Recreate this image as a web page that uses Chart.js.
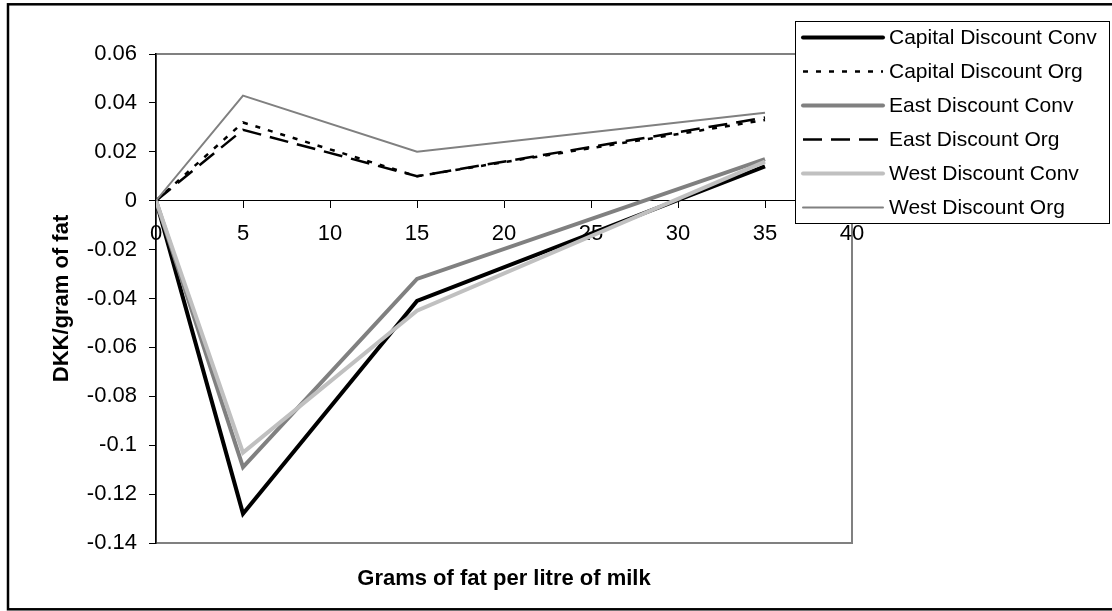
<!DOCTYPE html>
<html>
<head>
<meta charset="utf-8">
<title>Fat discount chart</title>
<script src="https://cdn.jsdelivr.net/npm/chart.js@4.4.1/dist/chart.umd.min.js"></script>
<style>
	body { margin: 0; background: #fff; }
	canvas { display: block; }
</style>
</head>
<body>
<canvas id="fatChart" width="1112" height="611"></canvas>
<script>
// data
const fatGrams = [0, 5, 15, 35]
const seriesNames = ["Capital Discount Conv", "Capital Discount Org", "East Discount Conv", "East Discount Org", "West Discount Conv", "West Discount Org"]
const capitalConv = [0, -0.128, -0.041, 0.014]
const capitalOrg = [0, 0.032, 0.010, 0.033]
const eastConv = [0, -0.109, -0.032, 0.017]
const eastOrg = [0, 0.029, 0.010, 0.034]
const westConv = [0, -0.103, -0.045, 0.016]
const westOrg = [0, 0.043, 0.020, 0.036]
const xTicks = { min: 0, max: 40, step: 5 }
const yTicks = { min: -0.14, max: 0.06, step: 0.02 }

const fontFamily = "'Liberation Sans', Arial, sans-serif"

const lineStyles = [
	{ color: "#000000", width: 4, dash: [] },
	{ color: "#000000", width: 2.5, dash: [5, 8] },
	{ color: "#808080", width: 4, dash: [] },
	{ color: "#000000", width: 2.5, dash: [19, 9] },
	{ color: "#c0c0c0", width: 4, dash: [] },
	{ color: "#808080", width: 2, dash: [] }
]
const seriesValues = [capitalConv, capitalOrg, eastConv, eastOrg, westConv, westOrg]

const datasets = seriesValues.map((values, i) => ({
	label: seriesNames[i],
	data: values.map((v, j) => ({ x: fatGrams[j], y: v })),
	borderColor: lineStyles[i].color,
	borderWidth: lineStyles[i].width,
	borderDash: lineStyles[i].dash,
	pointRadius: 0,
	tension: 0,
	fill: false,
	order: seriesValues.length - i // later series on top, like the original
}))

//frame behind the plot + outer border
const framePlugin = {
	id: "frame",
	beforeDraw(chart) {
		const ctx = chart.ctx
		const a = chart.chartArea
		ctx.save()
		ctx.strokeStyle = "#000"
		ctx.lineWidth = 2.5
		ctx.strokeRect(8, 4.3, 1200, 605)
		ctx.strokeStyle = "#808080"
		ctx.lineWidth = 2
		ctx.strokeRect(a.left, a.top, a.right - a.left, a.bottom - a.top)
		ctx.restore()
	}
}

//legend box on the right
const legendPlugin = {
	id: "boxLegend",
	afterDraw(chart) {
		const ctx = chart.ctx
		const box = { x: 795.5, y: 21.5, w: 314, h: 202 }
		ctx.save()
		ctx.fillStyle = "#fff"
		ctx.fillRect(box.x, box.y, box.w, box.h)
		ctx.strokeStyle = "#000"
		ctx.lineWidth = 1
		ctx.strokeRect(box.x, box.y, box.w, box.h)
		ctx.font = "21px " + fontFamily
		ctx.textBaseline = "middle"
		ctx.textAlign = "left"
		chart.data.datasets.forEach((ds, i) => {
			const rowY = 37.5 + i * 34
			ctx.beginPath()
			ctx.strokeStyle = ds.borderColor
			ctx.lineWidth = ds.borderWidth
			ctx.setLineDash(ds.borderDash)
			ctx.lineCap = ds.borderDash.length ? "butt" : "round"
			ctx.moveTo(803, rowY)
			ctx.lineTo(883, rowY)
			ctx.stroke()
			ctx.setLineDash([])
			ctx.fillStyle = "#000"
			ctx.fillText(ds.label, 889, rowY + 1)
		})
		ctx.restore()
	}
}

const ctx = document.getElementById("fatChart").getContext("2d")
const fatChart = new Chart(ctx, {
	type: "line",
	data: { datasets: datasets },
	plugins: [framePlugin, legendPlugin],
	options: {
		responsive: false,
		animation: false,
		devicePixelRatio: 1,
		layout: { padding: { left: 0, top: 54, right: 260, bottom: 18.6 } },
		plugins: {
			legend: { display: false },
			tooltip: { enabled: false },
			title: {
				display: true,
				position: "bottom",
				fullSize: false,
				text: "Grams of fat per litre of milk",
				color: "#000",
				font: { family: fontFamily, size: 22, weight: "bold" },
				padding: { top: 23, bottom: 0 }
			}
		},
		scales: {
			x: {
				type: "linear",
				position: { y: 0 },
				min: xTicks.min,
				max: xTicks.max,
				ticks: {
					stepSize: xTicks.step,
					color: "#000",
					padding: 13,
					font: { family: fontFamily, size: 22 }
				},
				grid: { drawOnChartArea: false, drawTicks: true, tickLength: 7, color: "#000" },
				border: { display: true, color: "#000", width: 1 },
				afterFit: (scale) => {
					scale.paddingLeft = 0
					scale.paddingRight = 0
				}
			},
			y: {
				type: "linear",
				position: "left",
				min: yTicks.min,
				max: yTicks.max,
				ticks: {
					stepSize: yTicks.step,
					color: "#000",
					padding: 12,
					font: { family: fontFamily, size: 22 },
					callback: (value) => String(+value.toFixed(2))
				},
				grid: { drawOnChartArea: false, drawTicks: true, tickLength: 7, color: "#000" },
				border: { display: true, color: "#000", width: 1.5 },
				title: {
					display: true,
					text: "DKK/gram of fat",
					color: "#000",
					font: { family: fontFamily, size: 22, weight: "bold" },
					padding: { top: 49, bottom: 0 }
				},
				afterFit: (scale) => {
					scale.width = 156
					scale.paddingTop = 0
					scale.paddingBottom = 0
				}
			}
		}
	}
})
</script>
</body>
</html>
